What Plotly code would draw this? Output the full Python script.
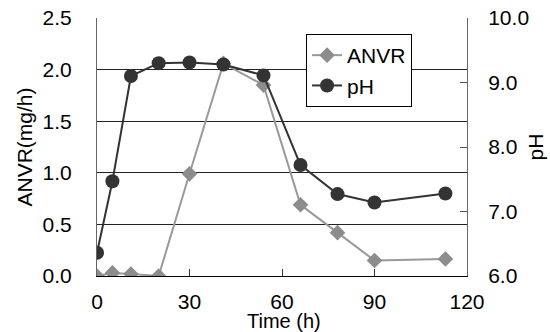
import plotly.graph_objects as go

time_h = [0, 5, 11, 20, 30, 41, 54, 66, 78, 90, 113]
anvr = [0.0, 0.03, 0.02, 0.0, 0.99, 2.06, 1.85, 0.69, 0.42, 0.15, 0.165]
ph = [6.36, 7.47, 9.10, 9.30, 9.31, 9.28, 9.11, 7.72, 7.27, 7.14, 7.28]

FONT = "Liberation Sans, Arial, sans-serif"
FS = 21

fig = go.Figure()
fig.add_trace(go.Scatter(
    x=time_h, y=anvr, name="ANVR", mode="lines+markers",
    line=dict(color="#999999", width=2),
    marker=dict(symbol="diamond", size=12, color="#8c8c8c"),
))
fig.add_trace(go.Scatter(
    x=time_h, y=ph, name="pH", mode="lines+markers", yaxis="y2",
    line=dict(color="#333333", width=2),
    marker=dict(symbol="circle", size=14, color="#333333"),
))

fig.update_layout(
    width=550, height=332,
    margin=dict(l=97, r=83, t=18, b=56, autoexpand=False),
    paper_bgcolor="white", plot_bgcolor="white",
    font=dict(family=FONT, size=FS, color="black"),
    showlegend=True,
    legend=dict(x=0.565, y=0.938, xanchor="left", yanchor="top",
                bgcolor="white", bordercolor="black", borderwidth=1,
                font=dict(size=FS), tracegroupgap=0,
                itemwidth=30),
    xaxis=dict(range=[0, 120], tickmode="linear", tick0=0, dtick=30,
               showgrid=False, zeroline=False, automargin=False,
               showline=True, linecolor="black", linewidth=1,
               ticks="inside", ticklen=7, tickcolor="#333333",
               ticklabelstandoff=7),
    yaxis=dict(range=[0, 2.5], tickmode="linear", tick0=0, dtick=0.5,
               tickformat=".1f", showgrid=True, gridcolor="#222222", gridwidth=1,
               zeroline=False, showline=True, linecolor="#666666", linewidth=1,
               ticks="", ticklabelstandoff=20, automargin=False,
               title=dict(text="ANVR(mg/h)", standoff=4, font=dict(size=FS))),
    yaxis2=dict(range=[6, 10], tickmode="linear", tick0=6, dtick=1,
                tickformat=".1f", overlaying="y", side="right",
                showgrid=False, zeroline=False, automargin=False,
                showline=True, linecolor="#666666", linewidth=1,
                ticks="inside", ticklen=7, tickcolor="#555555",
                ticklabelstandoff=16,
                title=dict(text="pH", standoff=0, font=dict(size=FS))),
    annotations=[dict(text="Time (h)", xref="paper", yref="paper",
                      x=0.505, y=-0.175, xanchor="center", yanchor="middle",
                      showarrow=False, font=dict(size=20))],
)

fig.write_html("out.html")
